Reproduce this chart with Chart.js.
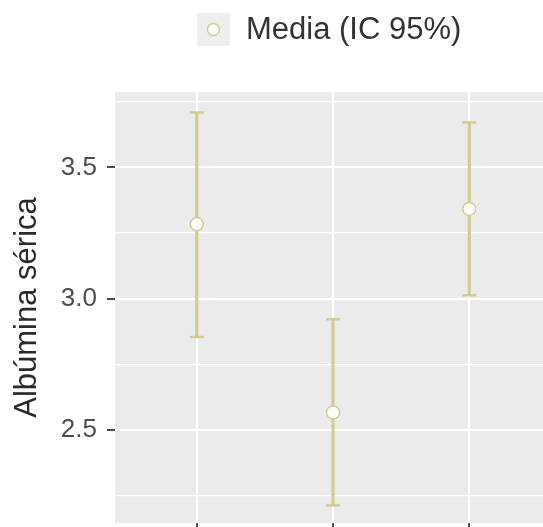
<!DOCTYPE html>
<html>
<head>
<meta charset="utf-8">
<title>Albúmina sérica</title>
<script src="https://cdn.jsdelivr.net/npm/chart.js@4.4.1/dist/chart.umd.min.js"></script>
<style>
  html, body { margin: 0; padding: 0; background: #ffffff; overflow: hidden; }
  canvas { display: block; }
</style>
</head>
<body>
<canvas id="chart" width="543" height="527"></canvas>
<script>
// Group positions along the x axis and the summary statistics per group
const groupPositions = [1, 2, 3];
const meanValues = [3.284, 2.567, 3.342];
const lowerCI = [2.854, 2.213, 3.013];
const upperCI = [3.709, 2.922, 3.671];

// Axis ticks and texts
const yMajorTicks = [2.5, 3.0, 3.5];
const yMinorTicks = [2.25, 2.75, 3.25, 3.75];
const yTitle = 'Albúmina sérica';
const legendLabel = 'Media (IC 95%)';

const FONT = '"Liberation Sans", Arial, "DejaVu Sans", sans-serif';
const CI_COLOR = '#d3cc90';
const PANEL_BG = '#ebebeb';

const isMajor = v => yMajorTicks.some(t => Math.abs(t - v) < 1e-6);

// Grey panel behind the plotting area
const panelBackground = {
  id: 'panelBackground',
  beforeDraw(chart) {
    const { ctx, chartArea: a } = chart;
    ctx.save();
    ctx.fillStyle = PANEL_BG;
    ctx.fillRect(a.left, a.top, a.right - a.left, a.bottom - a.top);
    ctx.restore();
  }
};

// Legend key: grey square with the mean marker, followed by its label
const legendKey = {
  id: 'legendKey',
  afterDraw(chart) {
    const { ctx } = chart;
    const kx = 197, ky = 13, ks = 33;
    ctx.save();
    ctx.fillStyle = '#eeeeee';
    ctx.fillRect(kx, ky, ks, ks);
    ctx.beginPath();
    ctx.arc(kx + ks / 2, ky + ks / 2, 6, 0, Math.PI * 2);
    ctx.fillStyle = '#ffffff';
    ctx.fill();
    ctx.lineWidth = 1.5;
    ctx.strokeStyle = CI_COLOR;
    ctx.stroke();
    ctx.fillStyle = '#333333';
    ctx.font = '31px ' + FONT;
    ctx.textAlign = 'left';
    ctx.textBaseline = 'middle';
    ctx.fillText(legendLabel, 246, ky + ks / 2 + 1);
    ctx.restore();
  }
};

const intervalData = groupPositions.map((x, i) => ({ x, y: [lowerCI[i], upperCI[i]] }));
const upperCaps = groupPositions.map((x, i) => ({ x, y: upperCI[i] }));
const lowerCaps = groupPositions.map((x, i) => ({ x, y: lowerCI[i] }));
const meanPoints = groupPositions.map((x, i) => ({ x, y: meanValues[i] }));

new Chart(document.getElementById('chart'), {
  type: 'scatter',
  data: {
    datasets: [
      {
        type: 'bar',
        label: 'IC 95%',
        data: intervalData,
        backgroundColor: CI_COLOR,
        borderWidth: 0,
        barThickness: 2.5,
        grouped: false,
        order: 2
      },
      {
        label: 'IC superior',
        data: upperCaps,
        pointStyle: 'line',
        radius: 7,
        borderWidth: 2.5,
        borderColor: CI_COLOR,
        order: 1
      },
      {
        label: 'IC inferior',
        data: lowerCaps,
        pointStyle: 'line',
        radius: 7,
        borderWidth: 2.5,
        borderColor: CI_COLOR,
        order: 1
      },
      {
        label: legendLabel,
        data: meanPoints,
        pointStyle: 'circle',
        radius: 6.5,
        borderWidth: 1.5,
        backgroundColor: '#ffffff',
        borderColor: CI_COLOR,
        order: 0
      }
    ]
  },
  options: {
    responsive: false,
    animation: false,
    events: [],
    layout: { autoPadding: false, padding: { top: 92, right: 0, bottom: 0, left: 0 } },
    plugins: {
      legend: { display: false },
      tooltip: { enabled: false }
    },
    scales: {
      x: {
        type: 'linear',
        min: 0.4,
        max: 3.541,
        offset: false,
        afterBuildTicks(scale) {
          scale.ticks = groupPositions.map(v => ({ value: v }));
        },
        afterFit(scale) {
          scale.height = 4;
          scale.paddingLeft = 0;
          scale.paddingRight = 0;
        },
        ticks: { display: false },
        border: { display: false },
        grid: {
          offset: false,
          color: '#ffffff',
          lineWidth: 2,
          drawTicks: true,
          tickLength: 4,
          tickColor: '#4d4d4d',
          tickWidth: 2
        }
      },
      y: {
        type: 'linear',
        min: 2.146,
        max: 3.787,
        afterBuildTicks(scale) {
          scale.ticks = [...yMinorTicks, ...yMajorTicks]
            .sort((a, b) => a - b)
            .map(v => ({ value: v }));
        },
        afterFit(scale) {
          scale.width = 115;
          scale.paddingTop = 0;
          scale.paddingBottom = 0;
        },
        border: { display: false },
        grid: {
          color: '#ffffff',
          lineWidth: ctx => (ctx.tick && isMajor(ctx.tick.value) ? 2 : 1.2),
          drawTicks: true,
          tickLength: 8,
          tickWidth: 2,
          tickColor: ctx => (ctx.tick && isMajor(ctx.tick.value) ? '#4d4d4d' : 'rgba(0,0,0,0)')
        },
        ticks: {
          padding: 10,
          color: '#4d4d4d',
          font: { family: FONT, size: 26 },
          callback: v => (isMajor(v) ? v.toFixed(1) : '')
        },
        title: {
          display: true,
          text: yTitle,
          color: '#2a2a2a',
          font: { family: FONT, size: 31 },
          padding: { top: 9, bottom: 0 }
        }
      }
    }
  },
  plugins: [panelBackground, legendKey]
});
</script>
</body>
</html>
